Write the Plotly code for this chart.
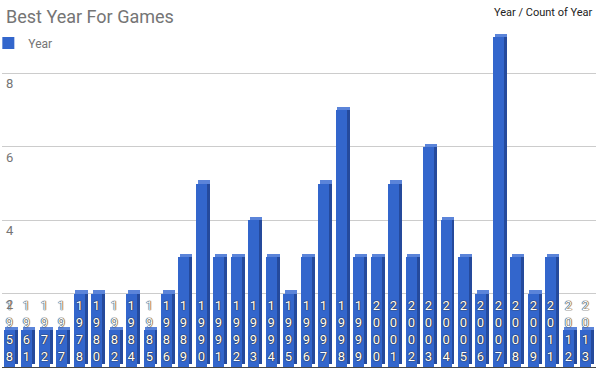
import plotly.graph_objects as go

years = ["1958", "1961", "1972", "1977", "1978", "1980", "1982", "1984", "1985", "1986",
         "1989", "1990", "1991", "1992", "1993", "1994", "1995", "1996", "1997", "1998",
         "1999", "2000", "2001", "2002", "2003", "2004", "2005", "2006", "2007", "2008",
         "2009", "2011", "2012", "2013"]
counts = [1, 1, 1, 1, 2, 2, 1, 2, 1, 2,
          3, 5, 3, 3, 4, 3, 2, 3, 5, 7,
          3, 3, 5, 3, 6, 4, 3, 2, 9, 3,
          2, 3, 1, 1]
ytick_vals = [2, 4, 6, 8]
ytick_text = ["2", "4", "6", "8"]

FRONT = "#3366cc"
SIDE = "#254a9c"
TOP = "#5b84d9"
depth = 0.085  # 3D depth in value units

fig = go.Figure()
# side face
fig.add_trace(go.Bar(
    x=years, y=counts, base=[depth] * len(counts),
    offset=0.22, width=0.18, marker=dict(color=SIDE, line=dict(width=0)),
    showlegend=False, hoverinfo="skip"))
# top face
fig.add_trace(go.Bar(
    x=years, y=[depth] * len(counts), base=counts,
    offset=-0.31, width=0.71, marker=dict(color=TOP, line=dict(width=0)),
    showlegend=False, hoverinfo="skip"))
# front face
fig.add_trace(go.Bar(
    x=years, y=counts, name="Year",
    offset=-0.4, width=0.63, marker=dict(color=FRONT, line=dict(width=0)),
    text=["<br>".join(list(y)) for y in years],
    textposition="inside", insidetextanchor="start", textangle=0,
    constraintext="none", cliponaxis=False,
    textfont=dict(family="Roboto", size=13, color="white",
                  shadow="0px 0px 1px #333, 0px 0px 1px #333, 0px 0px 1px #333"),
    showlegend=True))

annotations = [
    dict(text="Best Year For Games", x=0, y=1, xref="paper", yref="paper",
         xanchor="left", yanchor="top", xshift=2, yshift=-4, showarrow=False,
         font=dict(family="Roboto", size=18, color="#757575")),
    dict(text="Year / Count of Year", x=1, y=1, xref="paper", yref="paper",
         xanchor="right", yanchor="top", xshift=-1, yshift=-4, showarrow=False,
         font=dict(family="Roboto", size=11, color="#222222")),
]
for v, t in zip(ytick_vals, ytick_text):
    annotations.append(dict(text=t, x=0, y=v, xref="paper", yref="y",
                            xanchor="left", yanchor="top", xshift=2, yshift=-1,
                            showarrow=False,
                            font=dict(family="Roboto", size=13, color="#757575")))

fig.update_layout(
    width=600, height=371,
    margin=dict(l=2, r=4, t=0, b=4, autoexpand=False),
    paper_bgcolor="white", plot_bgcolor="white",
    barmode="overlay", bargap=0,
    font=dict(family="Roboto", color="#757575"),
    showlegend=True,
    legend=dict(x=-0.023, y=0.883, xanchor="left", yanchor="middle",
                font=dict(size=12, color="#757575"), bgcolor="rgba(0,0,0,0)",
                itemwidth=30, tracegroupgap=0),
    xaxis=dict(type="category", range=[-0.5, len(years) - 0.5],
               showticklabels=False, showgrid=False, zeroline=False,
               showline=True, linecolor="#444", linewidth=1, ticks=""),
    yaxis=dict(range=[0, 10], tickvals=ytick_vals + [10], showticklabels=False,
               gridcolor="#cccccc", gridwidth=1, zeroline=False, showline=False),
    annotations=annotations,
)
fig.write_html("out.html", config={"displayModeBar": False},
               post_script="document.body.style.margin='0';")
